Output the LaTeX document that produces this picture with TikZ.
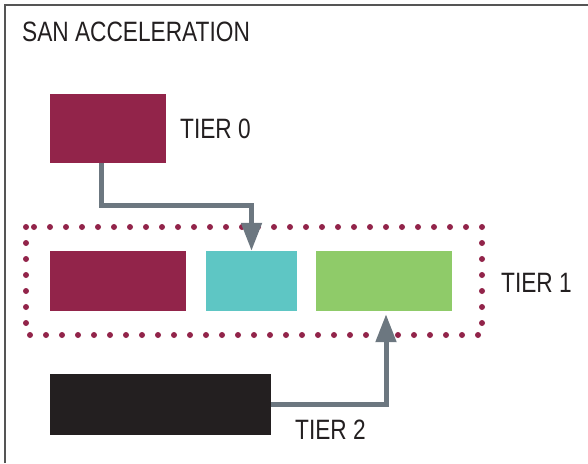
\documentclass[tikz,border=0pt]{standalone}
\usepackage{fontspec}
\setmainfont{Liberation Sans}[FakeStretch=0.81]
\usetikzlibrary{arrows.meta,positioning,calc}
\definecolor{wine}{HTML}{92244A}
\definecolor{teal}{HTML}{5EC6C4}
\definecolor{leaf}{HTML}{8FCB69}
\definecolor{ink}{HTML}{231F20}
\definecolor{slate}{HTML}{6C7780}
\definecolor{rim}{HTML}{555555}

\begin{document}
\begin{tikzpicture}[x=1pt, y=-1pt]
  \tikzstyle{tier}=[rectangle, draw=none, inner sep=0pt]
  \tikzstyle{label}=[inner sep=0pt, anchor=base west, text=ink, font=\fontsize{28}{33}\selectfont]
  \tikzstyle{link}=[line width=5pt, slate, -{Triangle[width=20pt, length=28pt]}]
  \useasboundingbox (0,0) rectangle (588,463);

  % frame, cut on the right and bottom
  \draw[rim, line width=2pt] (5,463) -- (5,5) -- (588,5);
  \node[label] (title) at (22,41) {SAN ACCELERATION};

  \node[tier, fill=wine, minimum width=116pt, minimum height=69pt] (t0) at (108,128.5) {};
  \node[label] (l0) at (180,138) {TIER 0};

  % tier 1 group
  \draw[wine, line width=6pt, line cap=round, dash pattern=on 0pt off 16pt] (26,227) rectangle (482,335);
  \node[tier, fill=wine, minimum width=136pt, minimum height=60pt] (t1a) at (118,281) {};
  \node[tier, fill=teal, minimum width=91pt, minimum height=60pt] (t1b) at (251.5,281) {};
  \node[tier, fill=leaf, minimum width=136pt, minimum height=60pt] (t1c) at (384,281) {};
  \node[label] (l1) at (501,292) {TIER 1};

  \node[tier, fill=ink, minimum width=221pt, minimum height=61pt] (t2) at (160.5,404.5) {};
  \node[label] (l2) at (295,439) {TIER 2};

  % moves between tiers
  \coordinate (bend0) at (101,205);
  \draw[link] (t0.south -| bend0) -- (bend0) -| (t1b.north);
  \draw[link] (t2.east) -| ([xshift=2pt, yshift=-3pt]t1c.south);
\end{tikzpicture}
\end{document}
